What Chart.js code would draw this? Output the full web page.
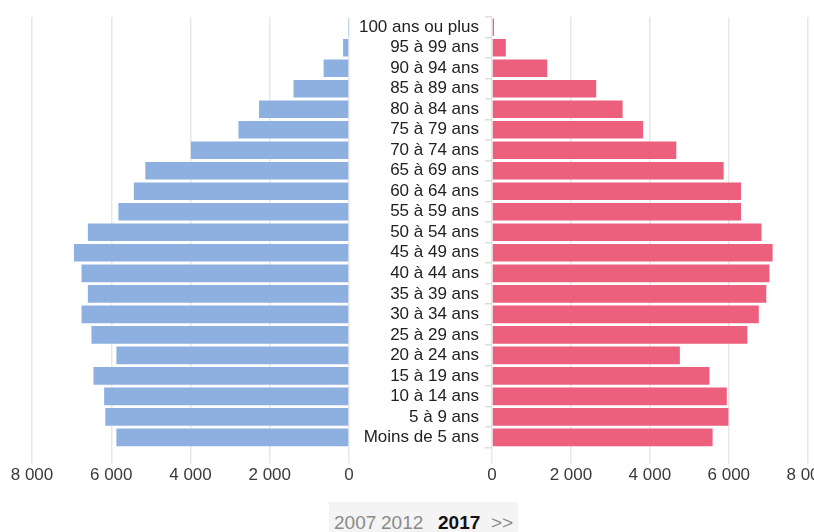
<!DOCTYPE html>
<html>
<head>
<meta charset="utf-8">
<script src="https://cdn.jsdelivr.net/npm/chart.js@4/dist/chart.umd.min.js"></script>
<style>
	html, body { margin:0; padding:0; background:#fff; width:814px; height:532px; overflow:hidden; position:relative; }
	#gauche { position:absolute; left:0; top:0; }
	#droite { position:absolute; left:350px; top:0; }
	#annees { position:absolute; left:329px; top:502px; width:189px; height:40px; background:#f4f4f4;
		font-family:'Liberation Sans', Arial, sans-serif; font-size:19px; color:#8a8a8a; }
	#annees span { position:absolute; top:10px; }
	#annees .actif { color:#111; font-weight:bold; }
</style>
</head>
<body>
<canvas id="gauche" width="371" height="488"></canvas>
<canvas id="droite" width="481" height="488"></canvas>
<div id="annees">
	<span style="left:5px">2007</span>
	<span style="left:52px">2012</span>
	<span class="actif" style="left:109px">2017</span>
	<span style="left:162px">&gt;&gt;</span>
</div>
<script>
// tranches d'age, du haut vers le bas
var tranches = ["100 ans ou plus", "95 à 99 ans", "90 à 94 ans", "85 à 89 ans", "80 à 84 ans",
	"75 à 79 ans", "70 à 74 ans", "65 à 69 ans", "60 à 64 ans", "55 à 59 ans", "50 à 54 ans",
	"45 à 49 ans", "40 à 44 ans", "35 à 39 ans", "30 à 34 ans", "25 à 29 ans", "20 à 24 ans",
	"15 à 19 ans", "10 à 14 ans", "5 à 9 ans", "Moins de 5 ans"];
var hommes = [10, 150, 640, 1400, 2270, 2790, 3990, 5140, 5430, 5820, 6590,
	6940, 6750, 6590, 6750, 6500, 5870, 6450, 6180, 6150, 5870];
var femmes = [50, 350, 1400, 2640, 3310, 3830, 4670, 5870, 6310, 6310, 6830,
	7110, 7030, 6950, 6760, 6470, 4760, 5510, 5950, 5990, 5590];
var graduations = [0, 2000, 4000, 6000, 8000];

Chart.defaults.font.family = "'Liberation Sans', Arial, sans-serif";
Chart.defaults.font.size = 17;
Chart.defaults.animation = false;

function milliers(v) {
	return v.toString().replace(/\B(?=(\d{3})+(?!\d))/g, ' ');
}

function axeX(inverse) {
	return {
		type: 'linear',
		reverse: inverse,
		min: 0,
		max: 8000,
		afterBuildTicks: function (scale) {
			scale.ticks = graduations.map(function (v) { return { value: v }; });
		},
		grid: { color: '#e8e8e8', lineWidth: 1.5, tickLength: 16 },
		border: { display: false },
		ticks: { color: '#3a3a3a', padding: 2, maxRotation: 0, callback: function (v) { return milliers(v); } }
	};
}

function pyramide(id, valeurs, couleur, cote) {
	var ctx = document.getElementById(id).getContext('2d');
	var estDroite = (cote == 'droite');
	var axeY = {
		display: estDroite,
		grid: { drawOnChartArea: false, tickLength: 7, color: '#dddddd', lineWidth: 1.5 },
		border: { display: false },
		ticks: { color: '#222', padding: 6, autoSkip: false }
	};
	if (estDroite) {
		// largeur fixe pour que la zone des barres commence au bon endroit
		axeY.afterFit = function (scale) { scale.width = 142; };
	}
	return new Chart(ctx, {
		type: 'bar',
		data: {
			labels: tranches,
			datasets: [{
				data: valeurs,
				backgroundColor: couleur,
				barPercentage: 0.86,
				categoryPercentage: 1
			}]
		},
		options: {
			indexAxis: 'y',
			responsive: false,
			layout: { padding: estDroite ? { top: 17, right: 22, left: 0, bottom: 0 } : { top: 17, left: 32, right: 22, bottom: 0 } },
			plugins: { legend: { display: false }, tooltip: { enabled: false } },
			scales: {
				x: axeX(!estDroite),
				y: axeY
			}
		}
	});
}

pyramide('gauche', hommes, '#8eb0e1', 'gauche');
pyramide('droite', femmes, '#ec5f7d', 'droite');
</script>
</body>
</html>
